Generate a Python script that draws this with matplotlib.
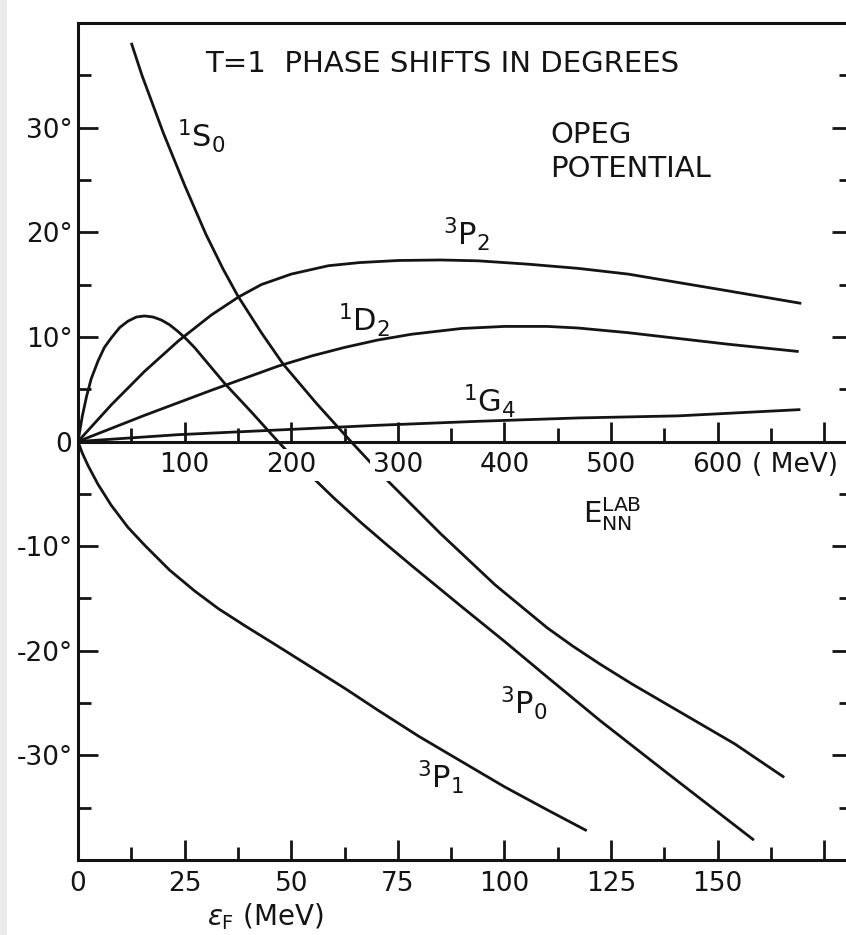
import numpy as np
import matplotlib
matplotlib.use("Agg")
import matplotlib.pyplot as plt
from matplotlib.patches import Rectangle

plt.rcParams['font.family'] = ['DejaVu Sans']
plt.rcParams['mathtext.fontset'] = 'dejavusans'

INK = '#141414'

# ---- phase shifts (degrees) versus Fermi energy eps_F (MeV); E_lab = 4 eps_F ----
s0_eps = [12.5, 15, 20, 25, 30, 34, 37.5, 43, 48.1, 56, 64, 72, 85, 97.8, 110, 116, 122.5, 130,
          138, 154, 165.6]
s0_del = [38.1, 35.0, 29.5, 24.5, 19.8, 16.5, 13.9, 10.4, 7.4, 3.6, 0, -3.5, -8.8, -13.7, -17.8,
          -19.55, -21.3, -23.2, -25.1, -28.9, -32.1]

p0_eps = [0, 1, 2, 3.1, 4.7, 6.2, 7.8, 9.8, 11.7, 13.7, 15.6, 17.6, 19.6, 21.5, 23.5, 25.5, 27.4,
          31, 34.4, 40.7, 46.9, 50.5, 54.8, 60, 66.5, 72.5, 78.2, 90, 100, 110, 122.5, 138.2, 158.5]
p0_del = [0, 2.4, 4.3, 6.0, 7.7, 9.0, 9.9, 10.9, 11.5, 11.9, 12.0, 11.9, 11.6, 11.15, 10.5, 9.75,
          8.95, 7.2, 5.55, 2.8, 0, -1.55, -3.35, -5.4, -7.8, -9.9, -11.85, -15.8, -19.1, -22.5,
          -26.7, -31.7, -38.1]

p1_eps = [0, 1, 2.35, 4.7, 7.8, 11.7, 15.6, 21.5, 27.4, 33, 39.1, 47, 54.8, 62.6, 70.4, 80, 90,
          100, 110, 119.3]
p1_del = [0, -1.1, -2.3, -4.1, -6.1, -8.2, -9.9, -12.3, -14.3, -16.0, -17.6, -19.6, -21.6, -23.6,
          -25.7, -28.2, -30.6, -33.0, -35.2, -37.2]

p2_eps = [0, 7.8, 15.6, 23.5, 31.3, 37.6, 43, 50, 58.7, 66, 75, 85, 93.8, 105.5, 117.2, 129,
          140.7, 152.4, 169.6]
p2_del = [0, 3.5, 6.7, 9.6, 12.1, 13.8, 15.0, 16.0, 16.8, 17.1, 17.3, 17.35, 17.27, 16.95, 16.55,
          16.0, 15.2, 14.4, 13.2]

d2_eps = [0, 15.6, 31.3, 46.9, 55, 62.6, 70.3, 78.2, 89.9, 100, 110, 117.2, 129, 140.7, 152.4, 169]
d2_del = [0, 2.5, 4.9, 7.2, 8.2, 9.0, 9.7, 10.25, 10.8, 11.0, 11.0, 10.85, 10.4, 9.85, 9.3, 8.6]

g4_eps = [0, 23.4, 46.9, 70.3, 93.8, 117.2, 140.7, 169.4]
g4_del = [0, 0.65, 1.1, 1.55, 1.93, 2.25, 2.45, 3.05]

curves = [(s0_eps, s0_del), (p0_eps, p0_del), (p1_eps, p1_del),
          (p2_eps, p2_del), (d2_eps, d2_del), (g4_eps, g4_del)]

# curve labels: (text, eps_F, delta) at the left/baseline of each label
curve_labels = [
    (r'$\mathregular{^{1}S_{0}}$', 23.2, 28.1),
    (r'$\mathregular{^{3}P_{2}}$', 85.6, 18.8),
    (r'$\mathregular{^{1}D_{2}}$', 61.0, 10.5),
    (r'$\mathregular{^{1}G_{4}}$', 90.3, 2.8),
    (r'$\mathregular{^{3}P_{0}}$', 98.9, -26.1),
    (r'$\mathregular{^{3}P_{1}}$', 79.5, -33.1),
]

# axis scales
eps_major = [0, 25, 50, 75, 100, 125, 150, 175]
eps_major_labels = ['0', '25', '50', '75', '100', '125', '150', '']
eps_minor = [12.5, 37.5, 62.5, 87.5, 112.5, 137.5, 162.5]
deg_major = [-40, -30, -20, -10, 0, 10, 20, 30, 40]
deg_major_labels = ['', '-30°', '-20°', '-10°', '0', '10°', '20°', '30°', '']
deg_minor = [-35, -25, -15, -5, 5, 15, 25, 35]
elab_major = [100, 200, 300, 400, 500, 600, 700]
elab_major_labels = ['100', '200', '300', '400', '500', '600', '']
elab_minor = [50, 150, 250, 350, 450, 550, 650]

fig = plt.figure(figsize=(8.46, 9.35), dpi=100)
fig.patches.append(Rectangle((0, 0), 7 / 846, 1, transform=fig.transFigure,
                             facecolor='#ebebeb', edgecolor='none', zorder=0))

ax = fig.add_axes([78 / 846, 75 / 935, (852 - 78) / 846, (860 - 23) / 935])
ax.set_xlim(0, 181.5)
ax.set_ylim(-40, 40)

for e, d in curves:
    ax.plot(e, d, color=INK, lw=2.0, solid_capstyle='butt', solid_joinstyle='round', zorder=2)

for sp in ax.spines.values():
    sp.set_linewidth(2.2)
    sp.set_color(INK)

ax.set_xticks(eps_major)
ax.set_xticklabels(eps_major_labels)
ax.set_xticks(eps_minor, minor=True)
ax.set_yticks(deg_major)
ax.set_yticklabels(deg_major_labels)
ax.set_yticks(deg_minor, minor=True)
ax.tick_params(which='both', direction='in', top=False, right=True,
               width=2.0, color=INK, labelsize=19, labelcolor=INK)
ax.tick_params(which='major', length=14.5)
ax.tick_params(which='minor', length=9.5)
ax.tick_params(axis='x', pad=8)
ax.tick_params(axis='y', pad=4)

# laboratory-energy scale drawn along delta = 0
ax.axhline(0, color=INK, lw=2.2, zorder=2)
ax.vlines(np.array(elab_major) / 4.0, 0, 1.9, color=INK, lw=2.0, zorder=2)
ax.vlines(np.array(elab_minor) / 4.0, 0, 1.25, color=INK, lw=2.0, zorder=2)
for e, lab in zip(elab_major, elab_major_labels):
    if lab:
        ax.text(e / 4.0, -2.25, lab, ha='center', va='center', fontsize=19, color=INK,
                zorder=4, bbox=dict(facecolor='white', edgecolor='none', pad=2))
ax.text(158.0, -2.25, '( MeV)', ha='left', va='center', fontsize=19, color=INK, zorder=4)
ax.text(118.4, -7.8, r'$\mathregular{E_{NN}^{LAB}}$', ha='left', va='baseline',
        fontsize=21, color=INK, zorder=4)

for txt, x, y in curve_labels:
    ax.text(x, y, txt, ha='left', va='baseline', fontsize=22, color=INK, zorder=4)

ax.text(29.8, 35.3, 'T=1  PHASE SHIFTS IN DEGREES', ha='left', va='baseline',
        fontsize=21, color=INK)
ax.text(110.7, 28.5, 'OPEG', ha='left', va='baseline', fontsize=21, color=INK)
ax.text(110.7, 25.3, 'POTENTIAL', ha='left', va='baseline', fontsize=21, color=INK)

ax.text(30.2, -46.2, r'$\epsilon_{\mathrm{F}}$ (MeV)', ha='left', va='baseline',
        fontsize=20, color=INK, clip_on=False)

fig.savefig('out.png', dpi=100, facecolor='white')
